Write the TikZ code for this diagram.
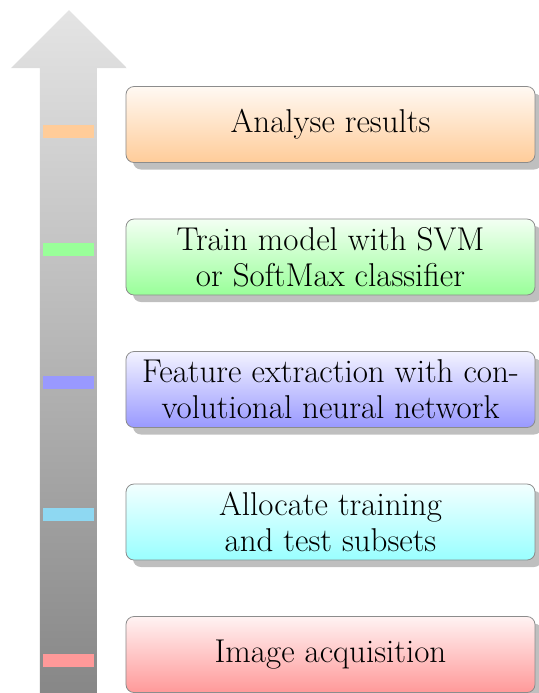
\documentclass[tikz,border=0pt]{standalone}
\usetikzlibrary{shadows}
\definecolor{cOrange}{HTML}{FFCC99}
\definecolor{cGreen}{HTML}{99FF99}
\definecolor{cBlue}{HTML}{9999FF}
\definecolor{cCyan}{HTML}{99FFFF}
\definecolor{cRed}{HTML}{FF9999}
\definecolor{mCyan}{HTML}{8ED8F2}
\definecolor{arrTop}{HTML}{E4E4E4}
\definecolor{arrBot}{HTML}{878787}
\begin{document}
\begin{tikzpicture}[x=0.5pt,y=-0.5pt,
  stepbox/.style={rectangle, rounded corners=4pt, draw=black!45, line width=0.4pt,
    minimum width=204.5pt, minimum height=38pt, inner sep=2pt, align=center,
    font=\fontsize{16.5}{18}\selectfont,
    drop shadow={shadow xshift=3.5pt, shadow yshift=-3.5pt},
    top color=#1!12!white, bottom color=#1},
  mark/.style={fill=#1}]
\useasboundingbox (0,0) rectangle (539,693);
% big arrow
\shade[top color=arrTop, bottom color=arrBot]
  (69,10) -- (127,68) -- (97,68) -- (97,693) -- (40,693) -- (40,68) -- (11,68) -- cycle;
% marks
\fill[mark=cOrange] (43,125) rectangle (94,138);
\fill[mark=cGreen] (43,243) rectangle (94,256);
\fill[mark=cBlue] (43,376) rectangle (94,389);
\fill[mark=mCyan] (43,508) rectangle (94,521);
\fill[mark=cRed] (43,654) rectangle (94,667);
% boxes
\node[stepbox=cOrange] (analyse) at (330.5,124.5) {Analyse results};
\node[stepbox=cGreen] (train) at (330.5,257) {Train model with SVM\\or SoftMax classifier};
\node[stepbox=cBlue] (feature) at (330.5,389.5) {Feature extraction with con-\\volutional neural network};
\node[stepbox=cCyan] (allocate) at (330.5,522) {Allocate training\\and test subsets};
\node[stepbox=cRed] (image) at (330.5,654.5) {Image acquisition};
\end{tikzpicture}
\end{document}
